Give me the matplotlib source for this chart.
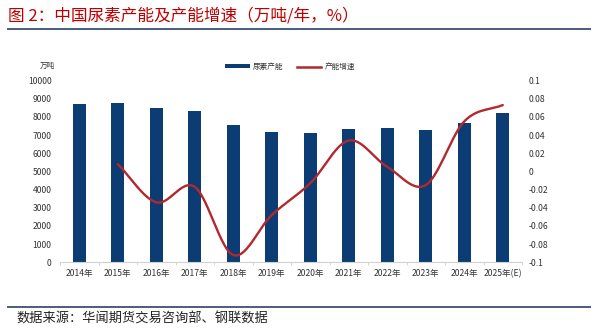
import numpy as np
import matplotlib
matplotlib.use("Agg")
import matplotlib.pyplot as plt
from matplotlib.lines import Line2D
from matplotlib.patches import Patch

plt.rcParams['font.family'] = ['Noto Sans CJK SC', 'DejaVu Sans']

# Data
years = ["2014年", "2015年", "2016年", "2017年", "2018年", "2019年", "2020年",
         "2021年", "2022年", "2023年", "2024年", "2025年(E)"]
capacity = [8680, 8775, 8460, 8330, 7565, 7160, 7105, 7345, 7400, 7290, 7675, 8225]
growth = [None, 0.008, -0.034, -0.017, -0.092, -0.048, -0.013,
          0.034, 0.005, -0.015, 0.055, 0.073]

left_ticks = list(range(0, 10001, 1000))
right_ticks = [0.1, 0.08, 0.06, 0.04, 0.02, 0, -0.02, -0.04, -0.06, -0.08, -0.1]
right_labels = ["0.1", "0.08", "0.06", "0.04", "0.02", "0",
                "-0.02", "-0.04", "-0.06", "-0.08", "-0.1"]

title = "图 2：中国尿素产能及产能增速（万吨/年，%）"
source = "数据来源：华闻期货交易咨询部、钢联数据"

BAR_COLOR = "#0b3c74"
LINE_COLOR = "#b3282d"
TITLE_COLOR = "#c00000"
RULE_COLOR = "#4a5d7e"
TICK_COLOR = "#333333"


def smooth(xs, ys, n=30):
    """Catmull-Rom spline through the given points (smoothed line)."""
    xs = np.asarray(xs, float)
    ys = np.asarray(ys, float)
    px = np.concatenate([[2 * xs[0] - xs[1]], xs, [2 * xs[-1] - xs[-2]]])
    py = np.concatenate([[2 * ys[0] - ys[1]], ys, [2 * ys[-1] - ys[-2]]])
    outx, outy = [], []
    t = np.linspace(0, 1, n)
    for i in range(1, len(px) - 2):
        p0, p1, p2, p3 = (np.array([px[j], py[j]]) for j in range(i - 1, i + 3))
        c1 = p1 + (p2 - p0) / 6
        c2 = p2 - (p3 - p1) / 6
        pts = ((1 - t) ** 3)[:, None] * p1 + (3 * (1 - t) ** 2 * t)[:, None] * c1 \
            + (3 * (1 - t) * t ** 2)[:, None] * c2 + (t ** 3)[:, None] * p2
        outx.extend(pts[:, 0])
        outy.extend(pts[:, 1])
    return np.array(outx), np.array(outy)


fig = plt.figure(figsize=(5.92, 3.29), dpi=100)
ax = fig.add_axes([60 / 592, 1 - 262.3 / 329, 462 / 592, (262.3 - 80.5) / 329])
ax2 = ax.twinx()

x = np.arange(len(years))
ax.bar(x, capacity, width=0.33, color=BAR_COLOR, zorder=2)
ax.set_xlim(-0.5, len(years) - 0.5)
ax.set_ylim(0, 10000)
ax.set_yticks(left_ticks)
ax.set_yticklabels([str(v) for v in left_ticks], fontsize=6.2, color=TICK_COLOR)
ax.set_xticks(x)
ax.set_xticklabels(years, fontsize=6.2, color=TICK_COLOR)
ax.tick_params(axis='y', length=0, pad=6)
ax.tick_params(axis='x', length=0, pad=5)
ax.set_xticks(np.arange(-0.5, len(years), 1), minor=True)
ax.tick_params(axis='x', which='minor', length=2.5, color="#d0d0d0", width=0.6)

gx = [xi for xi, g in zip(x, growth) if g is not None]
gy = [g for g in growth if g is not None]
sx, sy = smooth(gx, gy)
ax2.plot(sx, sy, color=LINE_COLOR, lw=1.7, solid_capstyle='round', zorder=3)
ax2.set_ylim(-0.1, 0.1)
ax2.set_yticks(right_ticks)
ax2.set_yticklabels(right_labels, fontsize=6.2, color=TICK_COLOR)
ax2.tick_params(axis='y', length=0, pad=5)

for a in (ax, ax2):
    for side in ("top", "left", "right"):
        a.spines[side].set_visible(False)
ax.spines["bottom"].set_color("#d0d0d0")
ax.spines["bottom"].set_linewidth(0.8)
ax2.spines["bottom"].set_visible(False)

# unit label
fig.text(47 / 592, 1 - 66 / 329, "万吨", fontsize=5.5, color=TICK_COLOR,
         ha='center', va='center')

# legend
handles = [Patch(facecolor=BAR_COLOR, edgecolor='none'),
           Line2D([0], [0], color=LINE_COLOR, lw=1.8)]
fig.legend(handles, ["尿素产能", "产能增速"], loc='center', ncol=2,
           bbox_to_anchor=(290 / 592, 1 - 67 / 329), frameon=False,
           fontsize=5.5, handlelength=3.2, handleheight=0.5,
           columnspacing=1.8, handletextpad=0.4, labelcolor=TICK_COLOR)

# title and rules
fig.text(8 / 592, 1 - 16 / 329, title, fontsize=12, color=TITLE_COLOR,
         ha='left', va='center')
fig.add_artist(Line2D([8 / 592, 590 / 592], [1 - 29 / 329, 1 - 29 / 329],
                      color=RULE_COLOR, lw=1.4))
fig.add_artist(Line2D([8 / 592, 590 / 592], [1 - 306.5 / 329, 1 - 306.5 / 329],
                      color=RULE_COLOR, lw=1.4))
fig.text(16 / 592, 1 - 319 / 329, source, fontsize=9.5, color="#222222",
         ha='left', va='center')

fig.savefig("out.png", dpi=100)
